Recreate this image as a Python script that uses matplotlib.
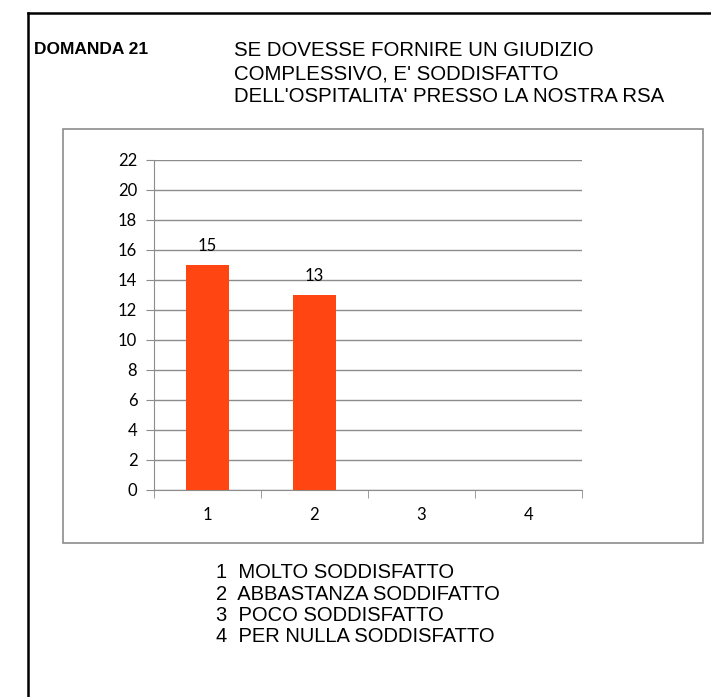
import matplotlib
matplotlib.use("Agg")
import matplotlib.pyplot as plt
from matplotlib.patches import Rectangle
from matplotlib.lines import Line2D

# data
categories = [1, 2, 3, 4]
values = [15, 13, 0, 0]
yticks = list(range(0, 23, 2))
legend_lines = ["1  MOLTO SODDISFATTO",
                "2  ABBASTANZA SODDIFATTO",
                "3  POCO SODDISFATTO",
                "4  PER NULLA SODDISFATTO"]
title_left = "DOMANDA 21"
title_lines = ["SE DOVESSE FORNIRE UN GIUDIZIO",
               "COMPLESSIVO, E' SODDISFATTO",
               "DELL'OSPITALITA' PRESSO LA NOSTRA RSA"]

W, H = 711, 697
fig = plt.figure(figsize=(W / 100, H / 100), dpi=100)
fig.patch.set_facecolor("white")

def fx(px):
    return px / W

def fy(py):
    return 1 - py / H

# black page frame (top and left only visible)
fig.add_artist(Line2D([fx(28), 1], [fy(13), fy(13)], color="black", lw=1.8))
fig.add_artist(Line2D([fx(28), fx(28)], [fy(13), 0], color="black", lw=1.8))

# title block
sans = ["Liberation Sans", "DejaVu Sans"]
fig.text(fx(34), fy(50), title_left, fontsize=12.5, fontweight="bold",
         family=sans, va="center", ha="left")
for i, line in enumerate(title_lines):
    fig.text(fx(234), fy(50 + i * 23.5), line, fontsize=14.7, family=sans,
             va="center", ha="left")

# chart border
fig.add_artist(Rectangle((fx(63), fy(543)), fx(703) - fx(63), fy(129) - fy(543),
                         transform=fig.transFigure, fill=False,
                         edgecolor="#8c8c8c", lw=1.2))

# plot area
ax = fig.add_axes([fx(154), fy(490), fx(582) - fx(154), fy(160) - fy(490)])
ax.bar(categories, values, width=0.4, color="#FF4512", zorder=3)
for c, v in zip(categories, values):
    if v > 0:
        ax.annotate(str(v), (c, v), xytext=(0, 8), textcoords="offset points",
                    ha="center", va="bottom", fontsize=12, family="Lato")

ax.set_xlim(0.5, 4.5)
ax.set_ylim(0, 22)
ax.set_yticks(yticks)
ax.set_xticks(categories)
ax.set_xticks([0.5, 1.5, 2.5, 3.5, 4.5], minor=True)
ax.yaxis.grid(True, color="#8c8c8c", lw=1)
ax.set_axisbelow(True)
for s in ["top", "right"]:
    ax.spines[s].set_visible(False)
for s in ["left", "bottom"]:
    ax.spines[s].set_color("#8c8c8c")
ax.tick_params(axis="y", length=6, color="#8c8c8c", labelsize=12, pad=6)
ax.tick_params(axis="x", which="major", length=0, labelsize=12, pad=12)
ax.tick_params(axis="x", which="minor", length=6, color="#8c8c8c")
for lab in ax.get_xticklabels() + ax.get_yticklabels():
    lab.set_family("Lato")

# legend text below chart
for i, line in enumerate(legend_lines):
    fig.text(fx(216), fy(573 + i * 21.3), line, fontsize=14.5, family=sans,
             va="center", ha="left")

fig.savefig("out.png", dpi=100, facecolor="white")
